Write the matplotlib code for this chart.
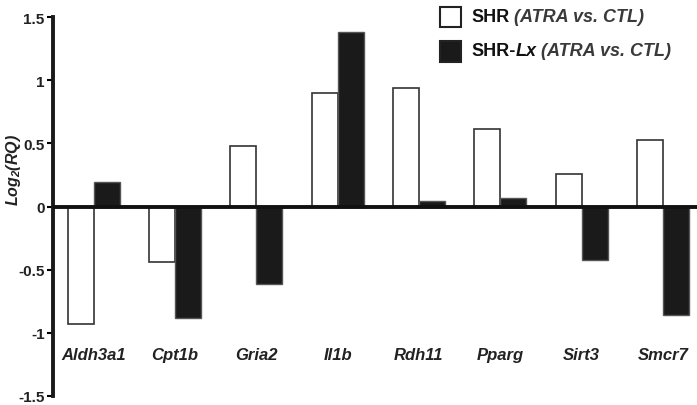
import matplotlib.pyplot as plt
from matplotlib.patches import Rectangle
import numpy as np

plt.rcParams['font.family'] = ['Liberation Sans', 'DejaVu Sans']
plt.rcParams['mathtext.fontset'] = 'custom'
plt.rcParams['mathtext.rm'] = 'Liberation Sans:bold:italic'
plt.rcParams['mathtext.it'] = 'Liberation Sans:bold:italic'

genes = ["Aldh3a1", "Cpt1b", "Gria2", "Il1b", "Rdh11", "Pparg", "Sirt3", "Smcr7"]
shr = [-0.93, -0.44, 0.48, 0.90, 0.94, 0.61, 0.26, 0.53]
shr_lx = [0.19, -0.88, -0.61, 1.38, 0.04, 0.07, -0.42, -0.86]
yticks = [-1.5, -1, -0.5, 0, 0.5, 1, 1.5]
ytick_labels = ["-1.5", "-1", "-0.5", "0", "0.5", "1", "1.5"]

W, H = 697, 406
fig = plt.figure(figsize=(W / 100, H / 100), dpi=100)
ax = fig.add_axes([53 / W, 9 / H, 1 - 53 / W, 379 / H])

x = np.arange(len(genes))
bw = 0.32
ax.bar(x - bw / 2, shr, bw, color="white", edgecolor="#333333", lw=1.2, zorder=2)
ax.bar(x + bw / 2, shr_lx, bw, color="#1a1a1a", edgecolor="#555555", lw=1.0, zorder=2)
ax.axhline(0, color="#111111", lw=2.8, zorder=3)

ax.set_xlim(-0.5, 7.42)
ax.set_ylim(-1.5, 1.5)
ax.set_yticks(yticks)
ax.set_yticklabels(ytick_labels, fontsize=11, fontweight="bold", color="#222222")
ax.tick_params(axis="y", direction="out", length=4, width=1.5, pad=2)
ax.set_xticks([])
ax.spines[["top", "right", "bottom"]].set_visible(False)
ax.spines["left"].set_linewidth(2.8)
ax.spines["left"].set_color("#1a1a1a")

for i, g in enumerate(genes):
    ax.text(i, -1.17, g, ha="center", va="center", fontsize=12,
            fontweight="bold", style="italic", color="#222222")

ax.set_ylabel(r"$Log_2(RQ)$", fontsize=11.5, color="#222222")
ax.yaxis.set_label_coords(-0.046, 0.6)

# legend drawn by hand (mixed bold / italic text)
def fx(px):
    return px / W

def fy(py):
    return 1 - py / H

fig.add_artist(Rectangle((fx(440), fy(28)), 21 / W, 20 / H, transform=fig.transFigure,
                         facecolor="white", edgecolor="#222222", lw=1.5))
fig.add_artist(Rectangle((fx(440), fy(63)), 21 / W, 21 / H, transform=fig.transFigure,
                         facecolor="#1a1a1a", edgecolor="#222222", lw=1.5))

fs = 13
t1 = fig.text(fx(471), fy(18), "SHR", fontsize=fs, fontweight="bold", va="center", color="#111111")
ax.annotate(" (ATRA vs. CTL)", xy=(1, 0), xycoords=t1, va="bottom", ha="left",
            fontsize=fs, style="italic", fontweight="bold", color="#3a3a3a",
            annotation_clip=False)

t2 = fig.text(fx(471), fy(52), "SHR-", fontsize=fs, fontweight="bold", va="center", color="#111111")
t3 = ax.annotate("Lx", xy=(1, 0), xycoords=t2, va="bottom", ha="left",
                 fontsize=fs, fontweight="bold", style="italic", color="#111111",
                 annotation_clip=False)
ax.annotate(" (ATRA vs. CTL)", xy=(1, 0), xycoords=t3, va="bottom", ha="left",
            fontsize=fs, style="italic", fontweight="bold", color="#3a3a3a",
            annotation_clip=False)

fig.savefig("out.png", dpi=100, facecolor="white")
